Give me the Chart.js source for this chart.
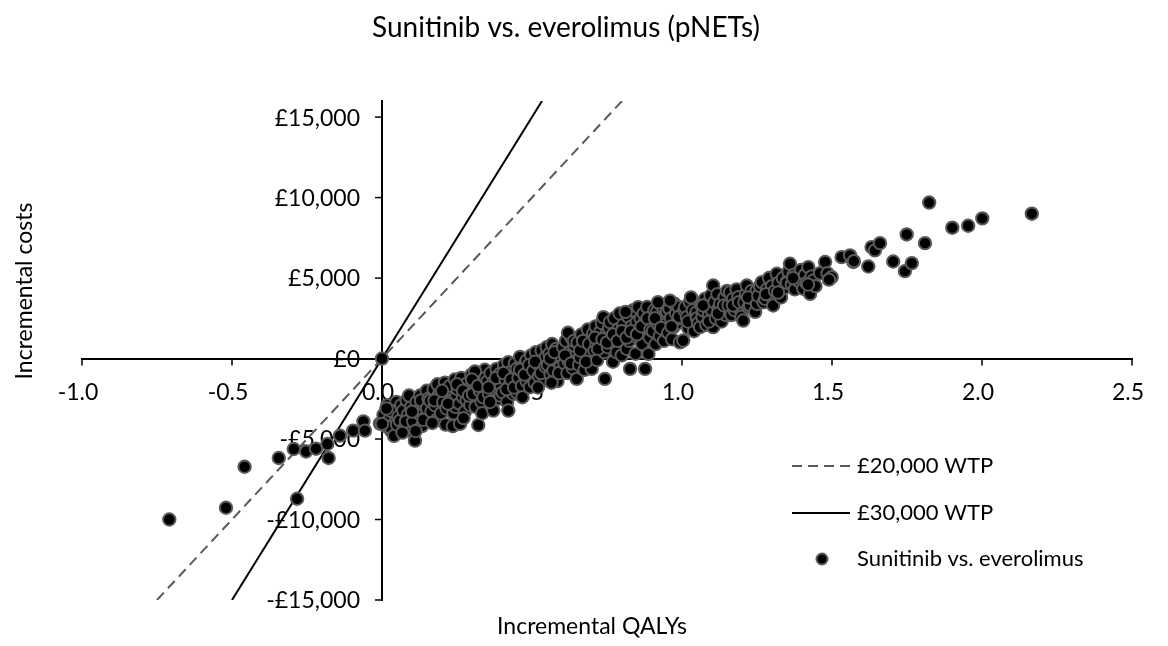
<!DOCTYPE html>
<html>
<head>
<meta charset="utf-8">
<title>Sunitinib vs. everolimus (pNETs)</title>
<script src="https://cdn.jsdelivr.net/npm/chart.js@4"></script>
<style>
  html, body { margin: 0; padding: 0; background: #fff; }
  #wrap { width: 1168px; height: 646px; }
</style>
</head>
<body>
<div id="wrap"><canvas id="icerPlane"></canvas></div>
<script>
// axis ticks
const qalyTicks = [-1, -0.5, 0, 0.5, 1, 1.5, 2, 2.5];
const costTicks = [-15000, -10000, -5000, 0, 5000, 10000, 15000];

// willingness-to-pay threshold lines (incremental QALYs, incremental costs)
const wtp20kQalys = [-0.75, 0.8];
const wtp20kCosts = [-15000, 16000];
const wtp30kQalys = [-0.5, 0.5333];
const wtp30kCosts = [-15000, 16000];

// PSA draws: [incremental QALYs, incremental cost]
const psaDraws = [
  [0, 0],
  [-0.709, -10000], [-0.52, -9270], [-0.458, -6720], [-0.344, -6180], [-0.294, -5620],
  [-0.283, -8710], [-0.253, -5770], [-0.22, -5600], [-0.182, -5310], [-0.178, -6180],
  [-0.14, -4790], [-0.096, -4480], [-0.062, -3900], [-0.057, -4480], [-0.007, -4040],
  [0.005, -3500], [0.012, -4200], [0.018, -2900], [0.024, -3800], [0.031, -4500], [0.036, -3300],
  [0.043, -4000], [0.048, -2700], [0.027, -3230], [0.027, -4270], [0.0, -4060], [0.04, -4800],
  [0.015, -3100], [0.05, -4100],
  [0.055, -3600], [0.06, -3860], [0.064, -2900], [0.071, -3230], [0.075, -4300], [0.082, -2600],
  [0.086, -3500], [0.093, -4480], [0.097, -3000], [0.068, -4600], [0.09, -2300], [0.08, -3900],
  [0.104, -3900], [0.11, -5100], [0.115, -2700], [0.121, -3400], [0.127, -2300], [0.127, -3130],
  [0.133, -4200], [0.14, -2900], [0.145, -3650], [0.149, -2000], [0.112, -4500], [0.138, -3800],
  [0.1, -3300], [0.13, -2600], [0.15, -3100],
  [0.155, -2500], [0.16, -2610], [0.165, -3300], [0.172, -1900], [0.177, -2900], [0.183, -3800],
  [0.188, -2300], [0.193, -2200], [0.197, -3400], [0.168, -4000], [0.185, -1600], [0.175, -2600],
  [0.204, -2700], [0.21, -1500], [0.215, -3100], [0.221, -2000], [0.227, -1680], [0.232, -2610],
  [0.238, -3400], [0.243, -1300], [0.248, -2300], [0.212, -4100], [0.236, -4200], [0.245, -3000],
  [0.2, -2000], [0.22, -2800],
  [0.252, -1900], [0.258, -2800], [0.26, -4060], [0.264, -1200], [0.27, -2400], [0.276, -3300],
  [0.282, -1570], [0.282, -2610], [0.288, -1900], [0.294, -2900], [0.298, -1000], [0.272, -3700],
  [0.25, -1600], [0.27, -2000], [0.29, -2300],
  [0.303, -2200], [0.308, -1500], [0.312, -3000], [0.316, -1060], [0.321, -4130], [0.326, -2000],
  [0.332, -2700], [0.338, -2410], [0.343, -700], [0.347, -1700], [0.334, -3400], [0.31, -800],
  [0.3, -1300], [0.32, -1700], [0.345, -1200],
  [0.352, -1400], [0.357, -2200], [0.362, -900], [0.367, -3000], [0.371, -1470], [0.371, -3230],
  [0.376, -1900], [0.382, -640], [0.387, -2500], [0.393, -950], [0.397, -1700], [0.36, -2700],
  [0.355, -1800], [0.38, -1200], [0.395, -2300],
  [0.402, -2100], [0.407, -400], [0.412, -1300], [0.417, -2700], [0.421, -230], [0.421, -3230],
  [0.427, -1600], [0.432, -800], [0.438, -2200], [0.443, -300], [0.449, -640], [0.449, -2100],
  [0.415, -1900], [0.405, -900], [0.43, -1300], [0.44, -1800],
  [0.455, -1200], [0.46, 100], [0.466, -1700], [0.471, -500], [0.477, -330], [0.482, -120],
  [0.482, -1400], [0.487, -900], [0.493, -1780], [0.497, 200], [0.499, -950], [0.468, -2400],
  [0.46, -700], [0.475, -1000], [0.49, -400],
  [0.504, -750], [0.509, -1500], [0.513, 400], [0.518, -300], [0.523, -1100], [0.527, -120],
  [0.532, 500], [0.537, -700], [0.542, -1300], [0.546, 100], [0.549, 700], [0.52, -1800],
  [0.51, -200], [0.53, -900], [0.545, -500],
  [0.553, -400], [0.558, 300], [0.562, -1000], [0.567, 900], [0.571, -750], [0.576, -100],
  [0.58, 600], [0.585, -1400], [0.59, 200], [0.595, -500], [0.6, 620], [0.565, -1500],
  [0.56, 0], [0.575, 400], [0.59, -900],
  [0.604, 700], [0.608, -300], [0.613, 1100], [0.618, -900], [0.621, -120], [0.626, 400],
  [0.631, 1300], [0.636, -600], [0.641, 800], [0.645, -200], [0.649, -1260], [0.62, 1600],
  [0.61, 200], [0.63, -300], [0.64, 1100],
  [0.652, 1000], [0.657, -400], [0.66, 80], [0.665, 1500], [0.67, 600], [0.675, -700],
  [0.682, 700], [0.686, 1800], [0.69, 300], [0.695, 1200], [0.699, -640], [0.68, -200],
  [0.66, 500], [0.67, 1100], [0.69, 900],
  [0.704, 1540], [0.708, 500], [0.712, 2000], [0.717, -100], [0.721, 1100], [0.727, 1640],
  [0.727, 1010], [0.733, 2200], [0.738, 2570], [0.741, 400], [0.743, -1260], [0.748, 1500],
  [0.715, 900], [0.71, 1300], [0.72, 600], [0.735, 1200],
  [0.753, 700], [0.757, 1900], [0.76, 2260], [0.765, 1200], [0.77, -200], [0.774, 2500],
  [0.778, 900], [0.782, 390], [0.787, 1800], [0.792, 2800], [0.796, 1300], [0.799, 200],
  [0.75, 1000], [0.77, 1500], [0.785, 1100],
  [0.804, 2100], [0.81, 1640], [0.816, 600], [0.82, 2600], [0.824, 1100], [0.827, -640],
  [0.832, 2000], [0.837, 3000], [0.842, 1400], [0.849, 2260], [0.845, 300], [0.812, 2900],
  [0.8, 1700], [0.815, 1300], [0.83, 1700],
  [0.854, 3190], [0.858, 1700], [0.862, 2500], [0.867, 900], [0.872, 2800], [0.877, -640],
  [0.88, 1900], [0.884, 3200], [0.888, 290], [0.892, 1300], [0.899, 2360], [0.875, 2200],
  [0.85, 1500], [0.865, 2000], [0.885, 2500], [0.895, 1800],
  [0.903, 1700], [0.908, 3000], [0.912, 900], [0.916, 2880], [0.921, 2100], [0.926, 1400],
  [0.931, 3300], [0.936, 2400], [0.94, 1100], [0.945, 2700], [0.949, 2160], [0.92, 3500],
  [0.91, 2500], [0.93, 1900], [0.95, 2900],
  [0.954, 1600], [0.958, 3100], [0.963, 2500], [0.967, 1200], [0.971, 1950], [0.975, 3400],
  [0.98, 2800], [0.985, 2200], [0.989, 3200], [0.993, 1010], [0.997, 2500], [0.96, 3600],
  [0.965, 2000], [0.99, 2600],
  [1.004, 1120], [1.008, 3000], [1.01, 3190], [1.016, 2570], [1.021, 1900], [1.026, 3500],
  [1.031, 2300], [1.036, 3000], [1.04, 1700], [1.045, 2700], [1.049, 2880], [1.03, 3800],
  [1.02, 2300], [1.05, 2500],
  [1.054, 2200], [1.06, 1950], [1.064, 3300], [1.068, 2600], [1.071, 2990], [1.076, 3700],
  [1.081, 2100], [1.086, 3400], [1.09, 2700], [1.095, 3900], [1.1, 3000], [1.104, 4540],
  [1.104, 1950], [1.07, 3300], [1.09, 2300],
  [1.108, 3500], [1.113, 2500], [1.118, 4000], [1.122, 3100], [1.127, 3400], [1.132, 2300],
  [1.138, 2990], [1.142, 3800], [1.146, 2700], [1.15, 4200], [1.12, 2800], [1.14, 3300],
  [1.155, 3300], [1.16, 4120], [1.165, 2700], [1.17, 3700], [1.176, 3000], [1.182, 4300],
  [1.188, 3810], [1.193, 3100], [1.198, 2600], [1.17, 3300], [1.19, 3500],
  [1.204, 2360], [1.208, 3500], [1.213, 4000], [1.216, 4540], [1.222, 3200], [1.227, 3300],
  [1.232, 4200], [1.238, 3700], [1.244, 2900], [1.249, 4230], [1.22, 3800], [1.25, 3400],
  [1.254, 3900], [1.26, 4500], [1.266, 4750], [1.272, 3500], [1.277, 3710], [1.283, 4300],
  [1.29, 5000], [1.296, 3900], [1.3, 4500], [1.28, 4000],
  [1.304, 3300], [1.31, 4200], [1.316, 5270], [1.322, 4700], [1.33, 3800], [1.336, 5000],
  [1.343, 4400], [1.349, 4750], [1.32, 4100], [1.35, 4700],
  [1.355, 5400], [1.36, 5890], [1.366, 4600], [1.372, 5200], [1.376, 4300], [1.382, 5060],
  [1.39, 4800], [1.397, 5500], [1.37, 5000],
  [1.404, 4340], [1.41, 5200], [1.415, 4700], [1.421, 5680], [1.427, 4020], [1.432, 5100],
  [1.438, 4850], [1.445, 4500], [1.42, 4600],
  [1.46, 5300], [1.477, 6000], [1.485, 5300], [1.499, 5060], [1.49, 4900],
  [1.532, 6300], [1.56, 6410], [1.571, 6000], [1.573, 6050], [1.621, 5720], [1.632, 6920],
  [1.643, 6720], [1.66, 7170], [1.704, 6030], [1.743, 5430], [1.749, 7710], [1.766, 5930],
  [1.81, 7170], [1.824, 9690], [1.901, 8130], [1.954, 8250], [2.001, 8710], [2.166, 9000]
];

const toPoints = (xs, ys) => xs.map((x, i) => ({ x: x, y: ys[i] }));

function formatCost(v) {
  const s = '£' + Math.abs(v).toLocaleString('en-GB');
  return v < 0 ? '-' + s : s;
}

const titleFont = '28px Lato';
const tickFont = '23px Lato';
const labelFont = '23px Lato';
const legendFont = '22px Lato';

// the axes cross at the origin, so tick marks and labels are drawn here
// underneath the points
const crossAxes = {
  id: 'crossAxes',
  beforeDatasetsDraw(chart) {
    const ctx = chart.ctx;
    const xs = chart.scales.x, ys = chart.scales.y;
    const x0 = xs.getPixelForValue(0), y0 = ys.getPixelForValue(0);
    ctx.save();
    ctx.strokeStyle = '#000';
    ctx.lineWidth = 1.5;
    ctx.fillStyle = '#000';
    ctx.font = tickFont;

    ctx.textAlign = 'center';
    ctx.textBaseline = 'middle';
    qalyTicks.forEach(v => {
      const px = xs.getPixelForValue(v);
      ctx.beginPath();
      ctx.moveTo(px, y0);
      ctx.lineTo(px, y0 + 7);
      ctx.stroke();
      ctx.fillText(v.toFixed(1), px - 4, y0 + 34);
    });

    ctx.textAlign = 'right';
    costTicks.forEach(v => {
      const py = ys.getPixelForValue(v);
      ctx.beginPath();
      ctx.moveTo(x0 - 7, py);
      ctx.lineTo(x0, py);
      ctx.stroke();
      ctx.fillText(formatCost(v), x0 - 22, py + 1);
    });
    ctx.restore();
  }
};

// chart title, axis titles and the in-plot legend
const planeDecor = {
  id: 'planeDecor',
  afterDraw(chart) {
    const ctx = chart.ctx;
    ctx.save();
    ctx.fillStyle = '#000';
    ctx.textBaseline = 'middle';
    ctx.textAlign = 'center';

    ctx.font = titleFont;
    ctx.fillText('Sunitinib vs. everolimus (pNETs)', 566, 28);

    ctx.font = labelFont;
    ctx.fillText('Incremental QALYs', 592, 627);

    ctx.save();
    ctx.translate(25, 291);
    ctx.rotate(-Math.PI / 2);
    ctx.fillText('Incremental costs', 0, 0);
    ctx.restore();

    const keyX = 792, textX = 857;
    const rows = [466, 513, 559];
    const order = [1, 2, 0];
    ctx.font = legendFont;
    ctx.textAlign = 'left';
    order.forEach((dsIndex, r) => {
      const ds = chart.data.datasets[dsIndex];
      const y = rows[r];
      if (ds.showLine) {
        ctx.save();
        ctx.strokeStyle = ds.borderColor;
        ctx.lineWidth = ds.borderWidth;
        ctx.setLineDash(ds.borderDash || []);
        ctx.beginPath();
        ctx.moveTo(keyX, y);
        ctx.lineTo(keyX + 58, y);
        ctx.stroke();
        ctx.restore();
      } else {
        ctx.beginPath();
        ctx.arc(keyX + 30, y, 5.5, 0, Math.PI * 2);
        ctx.fillStyle = ds.backgroundColor;
        ctx.fill();
        ctx.lineWidth = ds.borderWidth;
        ctx.strokeStyle = ds.borderColor;
        ctx.stroke();
        ctx.fillStyle = '#000';
      }
      ctx.fillText(ds.label, textX, y);
    });
    ctx.restore();
  }
};

Chart.defaults.font.family = 'Lato';
Chart.defaults.color = '#000';

const planeChart = new Chart(document.getElementById('icerPlane'), {
  type: 'scatter',
  data: {
    datasets: [
      {
        label: 'Sunitinib vs. everolimus',
        data: psaDraws.map(d => ({ x: d[0], y: d[1] })),
        backgroundColor: '#000',
        borderColor: '#5a5a5a',
        borderWidth: 2,
        pointRadius: 6.2,
        order: 0
      },
      {
        label: '£20,000 WTP',
        data: toPoints(wtp20kQalys, wtp20kCosts),
        showLine: true,
        borderColor: '#595959',
        borderWidth: 2,
        borderDash: [10, 6],
        pointRadius: 0,
        order: 1
      },
      {
        label: '£30,000 WTP',
        data: toPoints(wtp30kQalys, wtp30kCosts),
        showLine: true,
        borderColor: '#000',
        borderWidth: 2,
        pointRadius: 0,
        order: 2
      }
    ]
  },
  options: {
    responsive: true,
    maintainAspectRatio: false,
    animation: false,
    events: [],
    layout: { padding: { left: 82, right: 36, top: 101, bottom: 46 } },
    plugins: {
      legend: { display: false },
      tooltip: { enabled: false },
      title: { display: false }
    },
    scales: {
      x: {
        type: 'linear',
        position: { y: 0 },
        min: -1,
        max: 2.5,
        afterBuildTicks: axis => { axis.ticks = qalyTicks.map(v => ({ value: v })); },
        ticks: { display: false },
        grid: { display: false },
        border: { display: true, color: '#000', width: 2 }
      },
      y: {
        type: 'linear',
        position: { x: 0 },
        min: -15000,
        max: 16000,
        afterBuildTicks: axis => { axis.ticks = costTicks.map(v => ({ value: v })); },
        ticks: { display: false },
        grid: { display: false },
        border: { display: true, color: '#000', width: 2 }
      }
    }
  },
  plugins: [crossAxes, planeDecor]
});
</script>
</body>
</html>
